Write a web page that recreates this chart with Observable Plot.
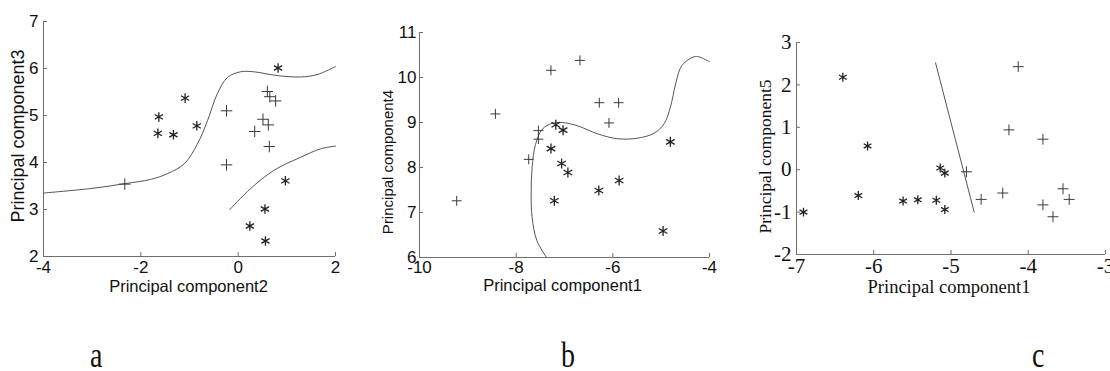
<!DOCTYPE html>
<html><head><meta charset="utf-8">
<script src="https://cdn.jsdelivr.net/npm/d3@7"></script>
<script src="https://cdn.jsdelivr.net/npm/@observablehq/plot@0.6"></script>
<style>
html,body{margin:0;padding:0;background:#fff}
#root{position:relative;width:1110px;height:371px;overflow:hidden;background:#fff}
.panel{position:absolute;top:0}
.lab{position:absolute;top:344px;font-family:"Liberation Serif",serif;font-size:28px;line-height:28px;color:#111;transform:scaleY(1.25);transform-origin:0 23px}
</style>
</head><body><div id="root"></div>
<script>
// ---- Panel a data ----
const aXTicks = [-4, -2, 0, 2];
const aYTicks = [2, 3, 4, 5, 6, 7];
const aPlusX = [-2.33, -0.24, -0.24, 0.34, 0.51, 0.62, 0.64, 0.60, 0.65, 0.77];
const aPlusY = [3.54, 5.10, 3.95, 4.66, 4.92, 4.80, 4.34, 5.51, 5.40, 5.31];
const aStarX = [0.82, -1.09, -1.63, -1.65, -1.33, -0.85, 0.97, 0.55, 0.24, 0.56];
const aStarY = [6.01, 5.37, 4.97, 4.62, 4.59, 4.78, 3.61, 3.01, 2.65, 2.33];
const aCurve1X = [-4, -3, -2.33, -1.8, -1.46, -1.11, -0.84, -0.63, -0.43, -0.22, 0.05, 0.32, 0.8, 1.28, 1.62, 2];
const aCurve1Y = [3.35, 3.45, 3.55, 3.64, 3.76, 3.97, 4.39, 4.89, 5.46, 5.81, 5.93, 5.93, 5.85, 5.82, 5.87, 6.04];
const aCurve2X = [-0.17, 0.25, 0.73, 1.28, 1.69, 2];
const aCurve2Y = [3.0, 3.44, 3.83, 4.11, 4.29, 4.35];

// ---- Panel b data ----
const bXTicks = [-10, -8, -6, -4];
const bYTicks = [6, 7, 8, 9, 10, 11];
const bPlusX = [-9.23, -8.43, -7.74, -7.54, -7.54, -7.28, -6.68, -6.28, -5.88, -6.08];
const bPlusY = [7.26, 9.19, 8.18, 8.82, 8.63, 10.16, 10.38, 9.44, 9.44, 8.99];
const bStarX = [-7.18, -7.03, -7.28, -7.06, -6.93, -7.21, -6.29, -5.87, -4.81, -4.96];
const bStarY = [8.95, 8.83, 8.42, 8.09, 7.89, 7.26, 7.49, 7.71, 8.57, 6.59];
const bCurveX = [-7.37, -7.57, -7.67, -7.69, -7.67, -7.60, -7.46, -7.26, -7.05, -6.74, -6.32, -5.91, -5.50, -5.15, -4.94, -4.81, -4.70, -4.57, -4.32, -4.22, -4.0];
const bCurveY = [6.0, 6.37, 6.89, 7.41, 8.0, 8.51, 8.85, 8.98, 9.0, 8.93, 8.75, 8.64, 8.65, 8.76, 8.97, 9.34, 9.86, 10.27, 10.46, 10.46, 10.35];

// ---- Panel c data ----
const cXTicks = [-7, -6, -5, -4, -3];
const cYTicks = [-2, -1, 0, 1, 2, 3];
const cStarX = [-6.40, -6.91, -6.20, -6.08, -5.62, -5.43, -5.19, -5.14, -5.08, -5.08];
const cStarY = [2.18, -1.00, -0.61, 0.56, -0.74, -0.71, -0.72, 0.04, -0.08, -0.94];
const cPlusX = [-4.13, -4.25, -3.81, -4.80, -4.61, -4.33, -3.81, -3.68, -3.55, -3.47];
const cPlusY = [2.43, 0.94, 0.72, -0.05, -0.70, -0.55, -0.83, -1.11, -0.45, -0.70];
const cLineX = [-5.20, -4.70];
const cLineY = [2.52, -1.0];

const zip = (xs, ys) => xs.map((x, i) => ({x, y: ys[i]}));
const axisColor = "#6e6e6e";

function panel(o) {
  const innerH = o.height - o.mt - o.mb;
  const innerW = o.width - o.ml - o.mr;
  const marks = [
    Plot.ruleX([o.xDomain[0]], {stroke: axisColor}),
    Plot.ruleY([o.yDomain[0]], {stroke: axisColor}),
    Plot.tickX(o.xTicks, {x: d => d, insetTop: innerH - 4, stroke: axisColor}),
    Plot.tickY(o.yTicks, {y: d => d, insetRight: innerW - 4, stroke: axisColor}),
    Plot.axisX(o.xTicks, {tickSize: 0, tickPadding: o.xPad, tickFormat: d => String(d), label: null, fill: "#111", fontSize: o.tickFont}),
    Plot.axisY(o.yTicks, {tickSize: 0, tickPadding: o.yPad, tickFormat: d => String(d), label: null, fill: "#111", fontSize: o.tickFont}),
    ...o.curves.map(c => Plot.line(zip(c[0], c[1]), {x: "x", y: "y", curve: o.curveType, stroke: "#555", strokeWidth: 1})),
    Plot.dot(zip(o.plusX, o.plusY), {x: "x", y: "y", symbol: "plus", r: o.plusR, stroke: "#3a3a3a", strokeWidth: 1}),
    Plot.dot(zip(o.starX, o.starY), {x: "x", y: "y", symbol: "asterisk", r: o.starR, stroke: "#222", strokeWidth: 1.3}),
    Plot.text([o.xLabel], {frameAnchor: "bottom", textAnchor: "middle", dx: o.xLabDx, dy: o.xLabDy, fontSize: o.labFont, fill: "#111", lineAnchor: "middle"}),
    Plot.text([o.yLabel], {frameAnchor: "left", textAnchor: "middle", rotate: -90, dx: o.yLabDx, dy: o.yLabDy, fontSize: o.yLabFont, fill: "#111", lineAnchor: "middle"})
  ];
  const svg = Plot.plot({
    width: o.width, height: o.height,
    marginLeft: o.ml, marginRight: o.mr, marginTop: o.mt, marginBottom: o.mb,
    x: {domain: o.xDomain},
    y: {domain: o.yDomain},
    style: {fontFamily: o.font, fontSize: o.tickFont + "px", background: "transparent", overflow: "visible"},
    marks
  });
  const wrap = document.createElement("div");
  wrap.className = "panel";
  wrap.style.left = o.left + "px";
  wrap.appendChild(svg);
  return wrap;
}

const root = document.getElementById("root");
const sans = "'Liberation Sans', Arial, sans-serif";
const serif = "'Liberation Serif', 'Times New Roman', serif";

root.appendChild(panel({
  left: 0, width: 360, height: 300, ml: 43, mr: 25, mt: 21, mb: 44,
  xDomain: [-4, 2], yDomain: [2, 7], xTicks: aXTicks, yTicks: aYTicks,
  plusX: aPlusX, plusY: aPlusY, starX: aStarX, starY: aStarY,
  curves: [[aCurve1X, aCurve1Y], [aCurve2X, aCurve2Y]], curveType: "catmull-rom",
  plusR: 3.8, starR: 4.5, font: sans, tickFont: 17, labFont: 16.5, yLabFont: 18,
  xPad: 4, yPad: 5, xLabel: "Principal component2", yLabel: "Principal component3",
  xLabDx: -1, xLabDy: 30, yLabDx: -25, yLabDy: -3
}));

root.appendChild(panel({
  left: 370, width: 360, height: 300, ml: 49, mr: 21, mt: 32, mb: 43,
  xDomain: [-10, -4], yDomain: [6, 11], xTicks: bXTicks, yTicks: bYTicks,
  plusX: bPlusX, plusY: bPlusY, starX: bStarX, starY: bStarY,
  curves: [[bCurveX, bCurveY]], curveType: "catmull-rom",
  plusR: 3.3, starR: 4.7, font: sans, tickFont: 17, labFont: 16.5, yLabFont: 15,
  xPad: 3, yPad: 3, xLabel: "Principal component1", yLabel: "Principal component4",
  xLabDx: -2, xLabDy: 28, yLabDx: -31, yLabDy: 17
}));

root.appendChild(panel({
  left: 740, width: 370, height: 300, ml: 56, mr: 5, mt: 42, mb: 46,
  xDomain: [-7, -3], yDomain: [-2, 3], xTicks: cXTicks, yTicks: cYTicks,
  plusX: cPlusX, plusY: cPlusY, starX: cStarX, starY: cStarY,
  curves: [[cLineX, cLineY]], curveType: "linear",
  plusR: 3.6, starR: 4.2, font: serif, tickFont: 21, labFont: 18.5, yLabFont: 17.5,
  xPad: 4, yPad: 5, xLabel: "Principal component1", yLabel: "Principal component5",
  xLabDx: -2, xLabDy: 33, yLabDx: -31, yLabDy: 8
}));

const letters = [["a", 90], ["b", 561], ["c", 1032]];
for (const [t, x] of letters) {
  const d = document.createElement("div");
  d.className = "lab";
  d.style.left = x + "px";
  d.textContent = t;
  root.appendChild(d);
}
</script>
</body></html>
